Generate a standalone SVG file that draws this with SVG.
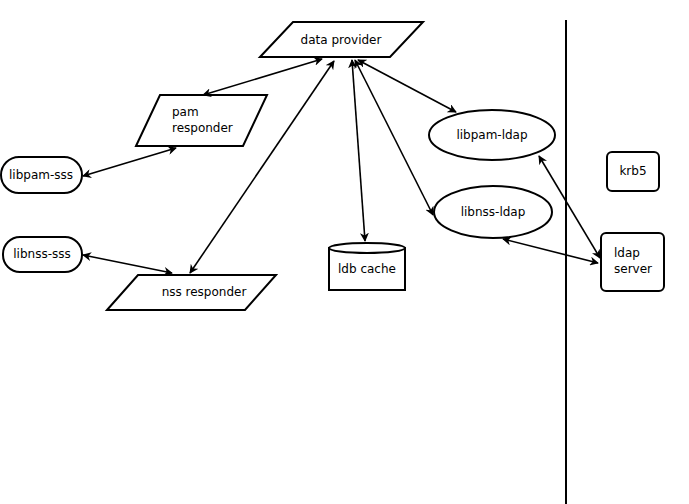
<svg xmlns="http://www.w3.org/2000/svg" width="689" height="504" viewBox="0 0 689 504">
<style>
.s{fill:#fff;stroke:#000;stroke-width:2}
.t{font-family:"DejaVu Sans",sans-serif;font-size:12px;fill:#000}
.c{stroke:#000;stroke-width:1.6;fill:none;marker-start:url(#a);marker-end:url(#a)}
</style>
<defs>
<marker id="a" viewBox="0 0 10 10" refX="9" refY="5" markerWidth="9" markerHeight="9" markerUnits="userSpaceOnUse" orient="auto-start-reverse">
<path d="M0,0 L10,5 L0,10 L3,5 Z" fill="#000"/>
</marker>
</defs>
<rect width="689" height="504" fill="#fff"/>
<line x1="566" y1="20" x2="566" y2="504" stroke="#000" stroke-width="2"/>
<g id="data-provider"><polygon class="s" points="260,57 293,22 423,22 390,57"/><text class="t" x="341" y="44" text-anchor="middle">data provider</text></g>
<g id="pam-responder"><polygon class="s" points="136,146 160,95 267,95 243,146"/><text class="t" x="172" y="116">pam</text><text class="t" x="172" y="132">responder</text></g>
<g id="nss-responder"><polygon class="s" points="107,310 138,275 276,275 245,310"/><text class="t" x="204" y="296" text-anchor="middle">nss responder</text></g>
<g id="libpam-sss"><rect class="s" x="1" y="157" width="81" height="36" rx="18"/><text class="t" x="41" y="179" text-anchor="middle">libpam-sss</text></g>
<g id="libnss-sss"><rect class="s" x="3" y="237" width="79" height="35" rx="17"/><text class="t" x="42" y="258" text-anchor="middle">libnss-sss</text></g>
<g id="libpam-ldap"><ellipse class="s" cx="492" cy="135" rx="63" ry="25"/><text class="t" x="492" y="139" text-anchor="middle">libpam-ldap</text></g>
<g id="libnss-ldap"><ellipse class="s" cx="493" cy="212" rx="59" ry="26"/><text class="t" x="493" y="216" text-anchor="middle">libnss-ldap</text></g>
<g id="ldb-cache"><path class="s" d="M329,248 L329,290 L405,290 L405,248 Z"/><ellipse class="s" cx="367" cy="248" rx="38" ry="5"/><text class="t" x="367" y="273" text-anchor="middle">ldb cache</text></g>
<g id="krb5"><rect class="s" x="607" y="152" width="52" height="39" rx="5"/><text class="t" x="633" y="175" text-anchor="middle">krb5</text></g>
<g id="ldap-server"><rect class="s" x="601" y="233" width="63" height="58" rx="5"/><text class="t" x="614" y="257">ldap</text><text class="t" x="614" y="273">server</text></g>
<g id="connectors">
<line class="c" x1="203" y1="95" x2="322" y2="59"/>
<line class="c" x1="83" y1="176" x2="176" y2="148"/>
<line class="c" x1="83" y1="255" x2="172" y2="273"/>
<line class="c" x1="190" y1="273" x2="334" y2="61"/>
<line class="c" x1="352" y1="60" x2="365" y2="241"/>
<line class="c" x1="355" y1="60" x2="433" y2="215"/>
<line class="c" x1="358" y1="60" x2="456" y2="112"/>
<line class="c" x1="539" y1="156" x2="600" y2="258"/>
<line class="c" x1="503" y1="239" x2="598" y2="263"/>
</g>
</svg>
